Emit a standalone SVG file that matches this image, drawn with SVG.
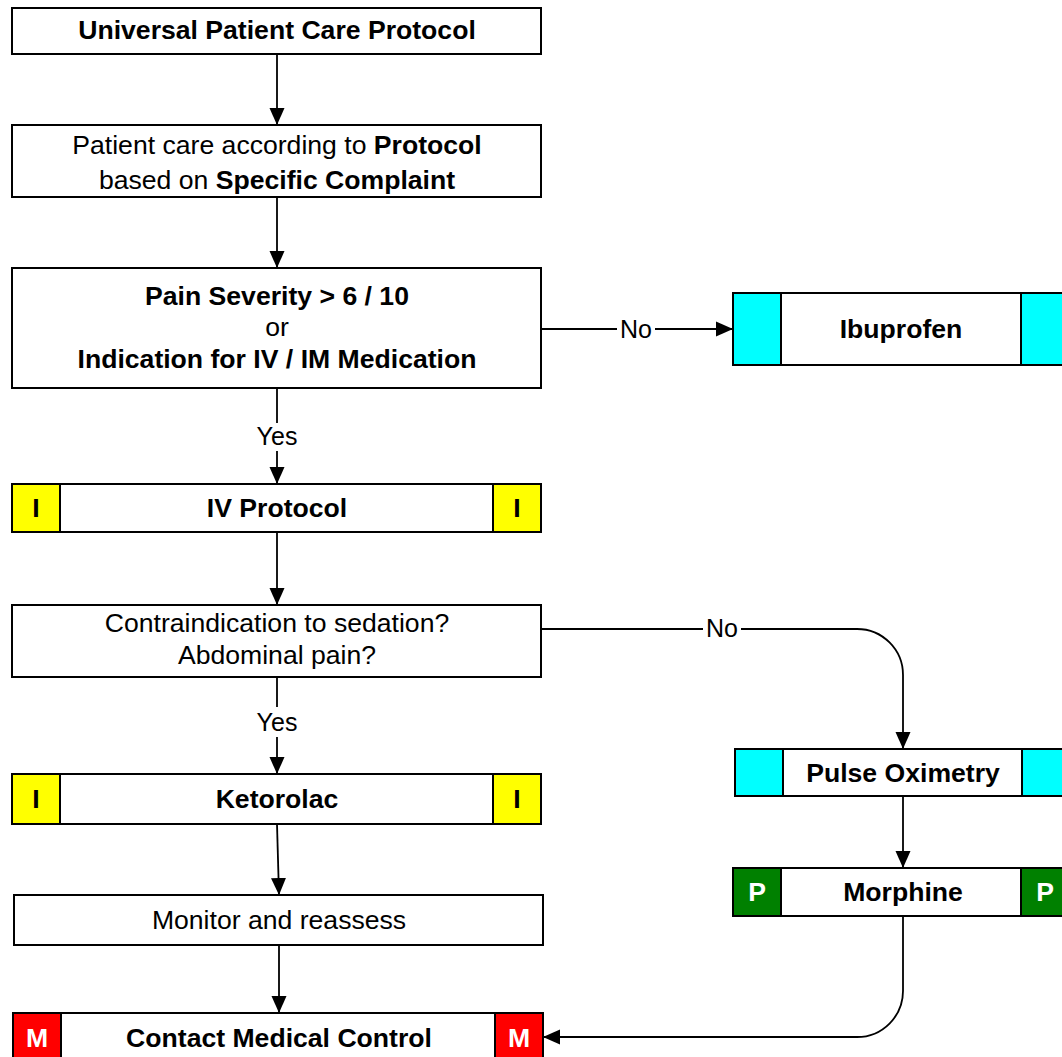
<svg xmlns="http://www.w3.org/2000/svg" width="1062" height="1057" viewBox="0 0 1062 1057">
<style>
.box{fill:#fff;stroke:#000;stroke-width:2}
.tag{stroke:#000;stroke-width:2}
.t{font-family:"Liberation Sans",Arial,sans-serif;font-size:26.6px;text-anchor:middle;fill:#000}
.b{font-weight:bold}
.w{fill:#fff}
.c{fill:none;stroke:#000;stroke-width:1.8}
.lbl{font-family:"Liberation Sans",Arial,sans-serif;font-size:25px;text-anchor:middle;fill:#000}
</style>
<defs>
<marker id="ah" markerUnits="userSpaceOnUse" markerWidth="17" markerHeight="16" viewBox="0 0 17 16" refX="17" refY="8" orient="auto">
<path d="M0,0.5 L17,8 L0,15.5 Z" fill="#000"/>
</marker>
</defs>
<rect width="1062" height="1057" fill="#fff"/>
<g id="connectors">
<path class="c" d="M277,54 V125" marker-end="url(#ah)"/>
<path class="c" d="M277,197 V268" marker-end="url(#ah)"/>
<path class="c" d="M277,388 V423"/>
<path class="c" d="M277,451 V484" marker-end="url(#ah)"/>
<text class="lbl" x="277" y="445">Yes</text>
<path class="c" d="M541,329 H617"/>
<path class="c" d="M655,329 H733" marker-end="url(#ah)"/>
<text class="lbl" x="636" y="338">No</text>
<path class="c" d="M277,532 V605" marker-end="url(#ah)"/>
<path class="c" d="M277,677 V707"/>
<path class="c" d="M277,737 V774" marker-end="url(#ah)"/>
<text class="lbl" x="277" y="731">Yes</text>
<path class="c" d="M541,629 H703"/>
<path class="c" d="M741,629 H857 A46,46 0 0 1 903,675 V749" marker-end="url(#ah)"/>
<text class="lbl" x="722" y="637">No</text>
<path class="c" d="M277,824 L279,895" marker-end="url(#ah)"/>
<path class="c" d="M279,945 V1013" marker-end="url(#ah)"/>
<path class="c" d="M903,796 V868" marker-end="url(#ah)"/>
<path class="c" d="M903,916 V991 A46,46 0 0 1 857,1037 H543" marker-end="url(#ah)"/>
</g>
<g id="n1">
<rect class="box" x="12" y="8" width="529" height="46"/>
<text class="t b" x="277" y="39">Universal Patient Care Protocol</text>
</g>
<g id="n2">
<rect class="box" x="12" y="125" width="529" height="72"/>
<text class="t" x="277" y="154">Patient care according to <tspan class="b">Protocol</tspan></text>
<text class="t" x="277" y="189">based on <tspan class="b">Specific Complaint</tspan></text>
</g>
<g id="n3">
<rect class="box" x="12" y="268" width="529" height="120"/>
<text class="t b" x="277" y="305">Pain Severity &gt; 6 / 10</text>
<text class="t" x="277" y="336">or</text>
<text class="t b" x="277" y="368">Indication for IV / IM Medication</text>
</g>
<g id="n4">
<rect class="box" x="733" y="293" width="340" height="72"/>
<rect class="tag" x="733" y="293" width="48" height="72" fill="#00FFFF"/>
<rect class="tag" x="1021" y="293" width="48" height="72" fill="#00FFFF"/>
<text class="t b" x="901" y="338">Ibuprofen</text>
</g>
<g id="n5">
<rect class="box" x="12" y="484" width="529" height="48"/>
<rect class="tag" x="12" y="484" width="48" height="48" fill="#FFFF00"/>
<rect class="tag" x="493" y="484" width="48" height="48" fill="#FFFF00"/>
<text class="t b" x="36" y="517">I</text>
<text class="t b" x="517" y="517">I</text>
<text class="t b" x="277" y="517">IV Protocol</text>
</g>
<g id="n6">
<rect class="box" x="12" y="605" width="529" height="72"/>
<text class="t" x="277" y="632">Contraindication to sedation?</text>
<text class="t" x="277" y="664">Abdominal pain?</text>
</g>
<g id="n7">
<rect class="box" x="12" y="774" width="529" height="50"/>
<rect class="tag" x="12" y="774" width="48" height="50" fill="#FFFF00"/>
<rect class="tag" x="493" y="774" width="48" height="50" fill="#FFFF00"/>
<text class="t b" x="36" y="808">I</text>
<text class="t b" x="517" y="808">I</text>
<text class="t b" x="277" y="808">Ketorolac</text>
</g>
<g id="n8">
<rect class="box" x="735" y="749" width="340" height="47"/>
<rect class="tag" x="735" y="749" width="48" height="47" fill="#00FFFF"/>
<rect class="tag" x="1022" y="749" width="48" height="47" fill="#00FFFF"/>
<text class="t b" x="903" y="782">Pulse Oximetry</text>
</g>
<g id="n9">
<rect class="box" x="733" y="868" width="340" height="48"/>
<rect class="tag" x="733" y="868" width="48" height="48" fill="#008000"/>
<rect class="tag" x="1021" y="868" width="48" height="48" fill="#008000"/>
<text class="t b w" x="757" y="901">P</text>
<text class="t b w" x="1045" y="901">P</text>
<text class="t b" x="903" y="901">Morphine</text>
</g>
<g id="n10">
<rect class="box" x="14" y="895" width="529" height="50"/>
<text class="t" x="279" y="929">Monitor and reassess</text>
</g>
<g id="n11">
<rect class="box" x="13" y="1013" width="530" height="52"/>
<rect class="tag" x="13" y="1013" width="48" height="52" fill="#FF0000"/>
<rect class="tag" x="495" y="1013" width="48" height="52" fill="#FF0000"/>
<text class="t b w" x="37" y="1047">M</text>
<text class="t b w" x="519" y="1047">M</text>
<text class="t b" x="279" y="1047">Contact Medical Control</text>
</g>
</svg>
